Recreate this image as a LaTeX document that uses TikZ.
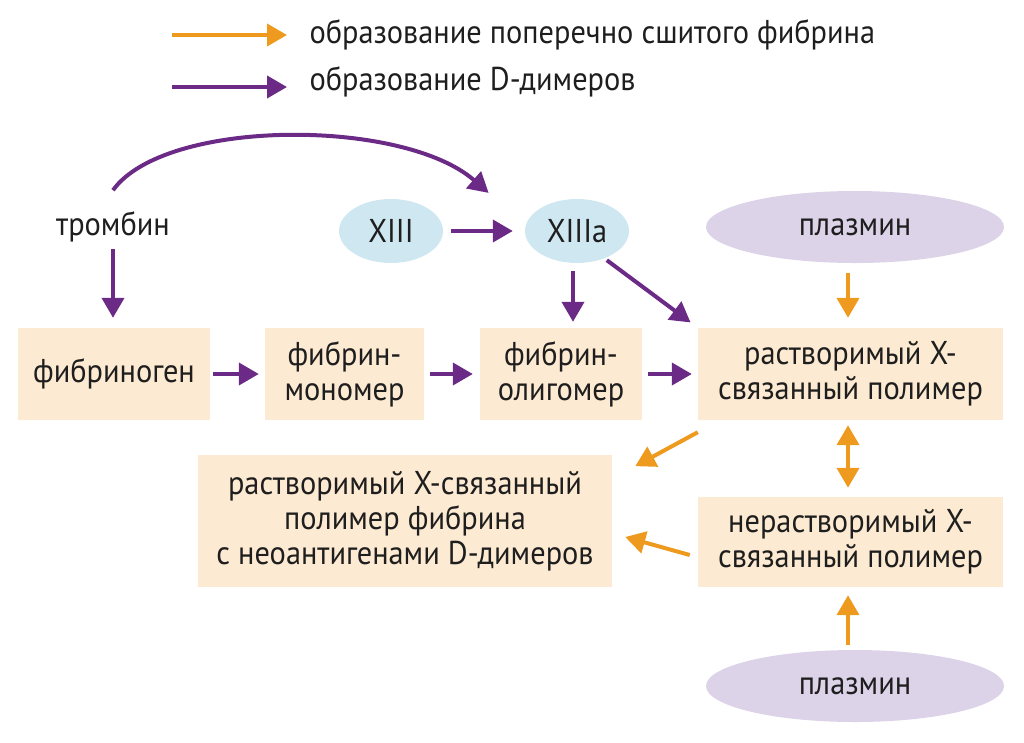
\documentclass[tikz,border=0pt]{standalone}
\usepackage{fontspec}
\setmainfont[FakeStretch=0.92]{PT Sans}
\usetikzlibrary{arrows.meta,calc,shapes.geometric}
\definecolor{violett}{RGB}{106,42,133}
\definecolor{orangeline}{RGB}{238,154,30}
\definecolor{boxfill}{RGB}{253,234,210}
\definecolor{ovalblue}{RGB}{207,231,241}
\definecolor{ovallila}{RGB}{220,211,232}
\definecolor{schrift}{RGB}{30,30,30}
\begin{document}
\begin{tikzpicture}[x=1pt,y=-1pt,
		font=\fontsize{33}{35}\selectfont, text=schrift,
		box/.style={fill=boxfill, minimum height=92pt, align=center, inner sep=0pt},
		oval/.style={ellipse, fill=ovalblue, minimum width=104pt, minimum height=64pt, inner sep=0pt},
		plasma/.style={ellipse, fill=ovallila, minimum width=298pt, minimum height=72pt, inner sep=0pt},
		pfeil/.style={line width=4pt, -{Triangle[length=20pt,width=22pt]}},
		vio/.style={pfeil, violett},
		ora/.style={pfeil, orangeline}]
		\useasboundingbox (0,0) rectangle (1024,742);
		% Legende
		\coordinate (lo1) at (172,35); \coordinate (lo2) at (287,35);
		\coordinate (lv1) at (172,87); \coordinate (lv2) at (287,87);
		\draw[ora] (lo1) -- (lo2);
		\draw[vio] (lv1) -- (lv2);
		\node[anchor=west] (leg1) at (306,35) {образование поперечно сшитого фибрина};
		\node[anchor=west] (leg2) at (306,82) {образование D-димеров};
		%
		\node (thr) at (113,227) {тромбин};
		\node[oval] (xiii) at (391,231) {XIII};
		\node[oval] (xiiia) at (577,231) {XIIIa};
		\node[plasma] (pl1) at (855,227) {плазмин};
		\node[plasma] (pl2) at (855,686) {плазмин};
		%
		\node[box, minimum width=192pt] (fgen) at (114,374) {фибриноген};
		\node[box, minimum width=159pt] (mono) at (344.5,374) {фибрин-\\мономер};
		\node[box, minimum width=162pt] (olig) at (561,374) {фибрин-\\олигомер};
		\node[box, minimum width=305pt] (sol) at (850.5,374) {растворимый X-\\связанный полимер};
		\node[box, minimum width=414pt, minimum height=132pt] (dd) at (405,521) {растворимый X-связанный\\полимер фибрина\\с неоантигенами D-димеров};
		\node[box, minimum width=305pt, minimum height=90pt] (insol) at (850.5,542) {нерастворимый X-\\связанный полимер};
		%
		\draw[vio, shorten >=2pt] ($(thr.north)+(0,-18)$) .. controls (165,118) and (403,118) .. ($(xiiia.north west)+(-50,-14)$);
		\draw[vio, shorten <=3pt, shorten >=10pt] (thr.south) -- (thr.south |- fgen.north);
		\draw[vio, shorten <=8pt, shorten >=12pt] (xiii) -- (xiiia);
		\draw[vio, shorten <=3pt, shorten >=6pt] (fgen) -- (mono);
		\draw[vio, shorten <=6pt, shorten >=7pt] (mono) -- (olig);
		\draw[vio, shorten <=6pt, shorten >=6pt] (olig) -- (sol);
		\draw[vio, shorten <=8pt, shorten >=6pt] (xiiia.south -| 573,0) -- (olig.north -| 573,0);
		\draw[vio, shorten <=3pt, shorten >=9pt] (xiiia.-45) -- (sol.north west);
		%
		\draw[ora, shorten <=10pt, shorten >=10pt] (pl1.south -| 848,0) -- (sol.north -| 848,0);
		\draw[ora, {Triangle[length=20pt,width=22pt]}-{Triangle[length=20pt,width=22pt]}, shorten <=5pt, shorten >=9pt] (sol.south -| 848,0) -- (insol.north -| 848,0);
		\draw[ora, shorten >=8pt] ($(sol.south west)+(0,12)$) -- ($(dd.east)+(16,-51)$);
		\draw[ora] ($(insol.west)+(-8,13)$) -- ($(dd.east)+(13,16)$);
		\draw[ora, shorten <=5pt, shorten >=8pt] (pl2.north -| 848,0) -- (insol.south -| 848,0);
	\end{tikzpicture}
\end{document}
